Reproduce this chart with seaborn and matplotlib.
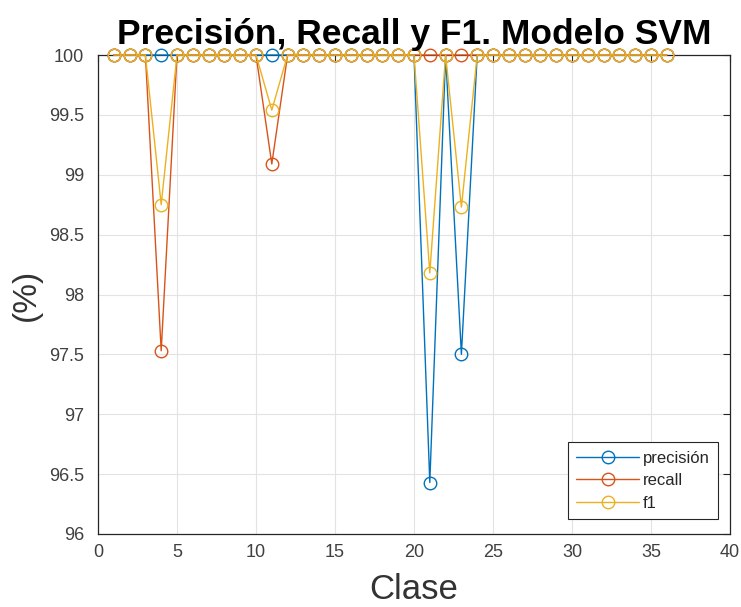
import numpy as np
import pandas as pd
import matplotlib
matplotlib.use("Agg")
import matplotlib.pyplot as plt
import seaborn as sns

# ---- data ----
clases = list(range(1, 37))
precision = [100.0] * 36
recall = [100.0] * 36
f1 = [100.0] * 36
# deviations
precision[21 - 1] = 96.43
precision[23 - 1] = 97.50
recall[4 - 1] = 97.53
recall[11 - 1] = 99.09
f1[4 - 1] = 98.75
f1[11 - 1] = 99.54
f1[21 - 1] = 98.18
f1[23 - 1] = 98.73

series_names = ["precisión", "recall", "f1"]
series_values = [precision, recall, f1]
colors = ["#0072BD", "#D95319", "#EDB120"]

x_ticks = [0, 5, 10, 15, 20, 25, 30, 35, 40]
y_ticks = [96, 96.5, 97, 97.5, 98, 98.5, 99, 99.5, 100]
y_tick_labels = ["96", "96.5", "97", "97.5", "98", "98.5", "99", "99.5", "100"]

sns.set_style("white")
plt.rcParams["font.family"] = ["Liberation Sans", "DejaVu Sans"]

fig = plt.figure(figsize=(7.41, 6.07), dpi=100)
L, R, T, B = 98, 730, 55, 534
ax = fig.add_axes([L / 741, (607 - B) / 607, (R - L) / 741, (B - T) / 607])

for name, vals, c in zip(series_names, series_values, colors):
    df = pd.DataFrame({"Clase": clases, "valor": vals})
    sns.lineplot(data=df, x="Clase", y="valor", ax=ax, color=c, lw=1.0,
                 marker="o", markersize=9, mfc="none", mec=c, mew=1.0,
                 label=name, clip_on=False, zorder=3)

ax.set_xlim(0, 40)
ax.set_ylim(96, 100)
ax.set_xticks(x_ticks)
ax.set_xticklabels([str(t) for t in x_ticks])
ax.set_yticks(y_ticks)
ax.set_yticklabels(y_tick_labels)
ax.grid(True, color="#e3e3e3", lw=0.8, zorder=0)
ax.set_axisbelow(True)
for sp in ax.spines.values():
    sp.set_visible(True)
    sp.set_color("#262626")
    sp.set_linewidth(0.9)
ax.tick_params(axis="both", direction="in", length=5, width=0.8, color="#262626",
               labelsize=13, labelcolor="#404040", top=True, right=True,
               labeltop=False, labelright=False)
ax.tick_params(axis="x", pad=7)
ax.tick_params(axis="y", pad=10)

ax.set_xlabel("Clase", fontsize=25, color="#333333", labelpad=9)
ax.set_ylabel("(%)", fontsize=24, color="#333333", labelpad=5)
ax.set_title("Precisión, Recall y F1. Modelo SVM", fontsize=25.5, fontweight="bold",
             color="black", pad=8)

W, H = R - L, B - T
leg = ax.legend(loc="lower right", fontsize=12, frameon=True, fancybox=False,
                edgecolor="#262626", framealpha=1,
                bbox_to_anchor=(1 - 12 / W, 15 / H),
                borderaxespad=0.0,
                handlelength=3.8, handletextpad=0.2, labelspacing=0.45,
                borderpad=0.5)
leg.get_frame().set_linewidth(0.8)

fig.savefig("out.png", dpi=100, facecolor="white")
